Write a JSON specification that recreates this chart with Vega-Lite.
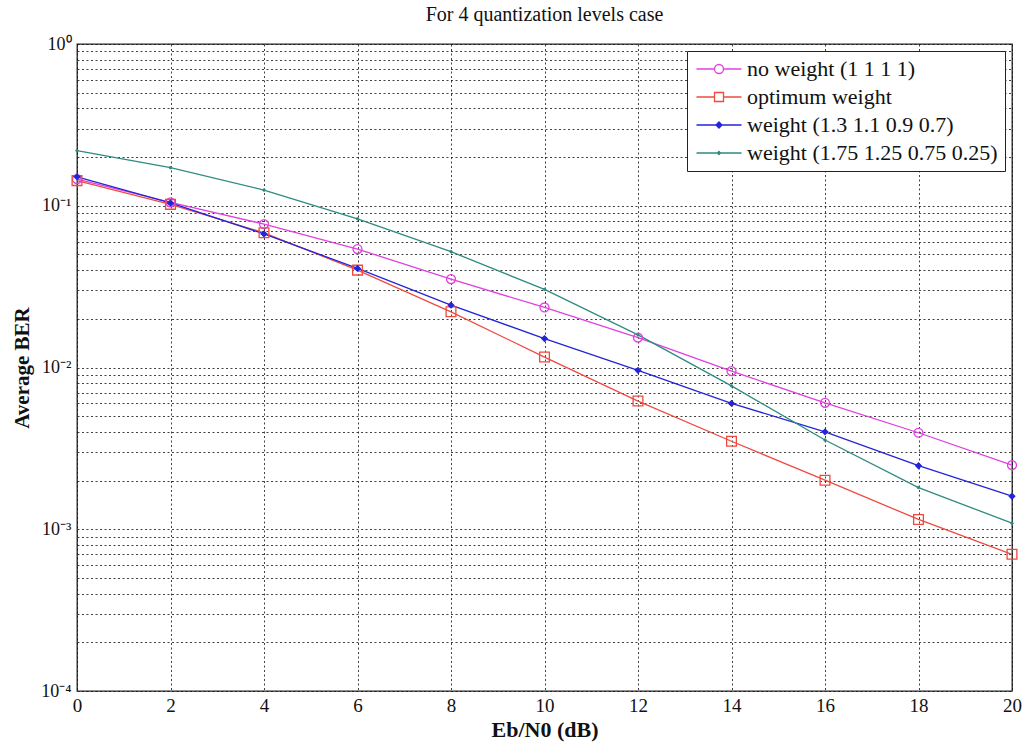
{
  "$schema": "https://vega.github.io/schema/vega-lite/v6.json",
  "width": 935,
  "height": 647,
  "autosize": {"type": "none"},
  "padding": {"left": 77, "top": 44, "right": 11, "bottom": 51},
  "background": "white",
  "title": {"text": "For 4 quantization levels case", "font": "Liberation Serif", "fontSize": 20, "fontWeight": "normal", "color": "#111", "offset": 10, "anchor": "middle"},
  "config": {
    "view": {"stroke": "#222", "strokeWidth": 1.3},
    "axis": {"labelFont": "Liberation Serif", "titleFont": "Liberation Serif", "labelColor": "#111", "titleColor": "#111", "domain": false, "ticks": false, "grid": true, "gridColor": "#111", "gridDash": [2, 2.5], "gridOpacity": 0.8, "gridWidth": 1},
    "legend": {"labelFont": "Liberation Serif", "titleFont": "Liberation Serif"}
  },
  "data": {"values": [
    {"series": "no weight (1 1 1 1)", "ebn0": 0, "ber": 0.146},
    {"series": "no weight (1 1 1 1)", "ebn0": 2, "ber": 0.105},
    {"series": "no weight (1 1 1 1)", "ebn0": 4, "ber": 0.077},
    {"series": "no weight (1 1 1 1)", "ebn0": 6, "ber": 0.054},
    {"series": "no weight (1 1 1 1)", "ebn0": 8, "ber": 0.0352},
    {"series": "no weight (1 1 1 1)", "ebn0": 10, "ber": 0.0235},
    {"series": "no weight (1 1 1 1)", "ebn0": 12, "ber": 0.0153},
    {"series": "no weight (1 1 1 1)", "ebn0": 14, "ber": 0.0095},
    {"series": "no weight (1 1 1 1)", "ebn0": 16, "ber": 0.00605},
    {"series": "no weight (1 1 1 1)", "ebn0": 18, "ber": 0.00395},
    {"series": "no weight (1 1 1 1)", "ebn0": 20, "ber": 0.00249},
    {"series": "optimum weight", "ebn0": 0, "ber": 0.143},
    {"series": "optimum weight", "ebn0": 2, "ber": 0.102},
    {"series": "optimum weight", "ebn0": 4, "ber": 0.068},
    {"series": "optimum weight", "ebn0": 6, "ber": 0.040},
    {"series": "optimum weight", "ebn0": 8, "ber": 0.0221},
    {"series": "optimum weight", "ebn0": 10, "ber": 0.0116},
    {"series": "optimum weight", "ebn0": 12, "ber": 0.0062},
    {"series": "optimum weight", "ebn0": 14, "ber": 0.0035},
    {"series": "optimum weight", "ebn0": 16, "ber": 0.00201},
    {"series": "optimum weight", "ebn0": 18, "ber": 0.00115},
    {"series": "optimum weight", "ebn0": 20, "ber": 0.0007},
    {"series": "weight (1.3 1.1 0.9 0.7)", "ebn0": 0, "ber": 0.151},
    {"series": "weight (1.3 1.1 0.9 0.7)", "ebn0": 2, "ber": 0.104},
    {"series": "weight (1.3 1.1 0.9 0.7)", "ebn0": 4, "ber": 0.067},
    {"series": "weight (1.3 1.1 0.9 0.7)", "ebn0": 6, "ber": 0.041},
    {"series": "weight (1.3 1.1 0.9 0.7)", "ebn0": 8, "ber": 0.0243},
    {"series": "weight (1.3 1.1 0.9 0.7)", "ebn0": 10, "ber": 0.0151},
    {"series": "weight (1.3 1.1 0.9 0.7)", "ebn0": 12, "ber": 0.0096},
    {"series": "weight (1.3 1.1 0.9 0.7)", "ebn0": 14, "ber": 0.0060},
    {"series": "weight (1.3 1.1 0.9 0.7)", "ebn0": 16, "ber": 0.0040},
    {"series": "weight (1.3 1.1 0.9 0.7)", "ebn0": 18, "ber": 0.00247},
    {"series": "weight (1.3 1.1 0.9 0.7)", "ebn0": 20, "ber": 0.0016},
    {"series": "weight (1.75 1.25 0.75 0.25)", "ebn0": 0, "ber": 0.219},
    {"series": "weight (1.75 1.25 0.75 0.25)", "ebn0": 2, "ber": 0.172},
    {"series": "weight (1.75 1.25 0.75 0.25)", "ebn0": 4, "ber": 0.125},
    {"series": "weight (1.75 1.25 0.75 0.25)", "ebn0": 6, "ber": 0.083},
    {"series": "weight (1.75 1.25 0.75 0.25)", "ebn0": 8, "ber": 0.052},
    {"series": "weight (1.75 1.25 0.75 0.25)", "ebn0": 10, "ber": 0.0304},
    {"series": "weight (1.75 1.25 0.75 0.25)", "ebn0": 12, "ber": 0.0159},
    {"series": "weight (1.75 1.25 0.75 0.25)", "ebn0": 14, "ber": 0.0077},
    {"series": "weight (1.75 1.25 0.75 0.25)", "ebn0": 16, "ber": 0.00356},
    {"series": "weight (1.75 1.25 0.75 0.25)", "ebn0": 18, "ber": 0.00181},
    {"series": "weight (1.75 1.25 0.75 0.25)", "ebn0": 20, "ber": 0.00109}
  ]},
  "encoding": {
    "x": {"field": "ebn0", "type": "quantitative", "scale": {"domain": [0, 20], "nice": false},
      "axis": {"values": [0, 2, 4, 6, 8, 10, 12, 14, 16, 18, 20], "title": "Eb/N0 (dB)", "titleFontSize": 22, "titleFontWeight": "bold", "labelFontSize": 19, "labelPadding": 5, "titlePadding": 4, "labelFlush": false}},
    "y": {"field": "ber", "type": "quantitative", "scale": {"type": "log", "domain": [0.0001, 1], "nice": false},
      "axis": {"values": [0.0001, 0.0002, 0.0003, 0.0004, 0.0005, 0.0006, 0.0007, 0.0008, 0.0009, 0.001, 0.002, 0.003, 0.004, 0.005, 0.006, 0.007, 0.008, 0.009, 0.01, 0.02, 0.03, 0.04, 0.05, 0.06, 0.07, 0.08, 0.09, 0.1, 0.2, 0.3, 0.4, 0.5, 0.6, 0.7, 0.8, 0.9, 1],
        "labelExpr": "datum.value == 1 ? '10⁰' : datum.value == 0.1 ? '10⁻¹' : datum.value == 0.01 ? '10⁻²' : datum.value == 0.001 ? '10⁻³' : datum.value == 0.0001 ? '10⁻⁴' : ''",
        "labelOverlap": false, "labelFlush": false, "labelFontSize": 18, "labelPadding": 6,
        "title": "Average BER", "titleFontSize": 21, "titleFontWeight": "bold", "titlePadding": 8}}
  },
  "layer": [
    {
      "mark": {"type": "line", "strokeWidth": 1.3},
      "encoding": {
        "color": {"field": "series", "type": "nominal",
          "scale": {"domain": ["no weight (1 1 1 1)", "optimum weight", "weight (1.3 1.1 0.9 0.7)", "weight (1.75 1.25 0.75 0.25)"], "range": ["#e040e0", "#f04a40", "#2424d8", "#2e8b80"]},
          "legend": {"title": null, "orient": "top-right", "offset": 7, "strokeColor": "#222", "fillColor": "white", "padding": 7,
            "labelFont": "Liberation Serif", "labelFontSize": 22, "labelColor": "#111", "labelLimit": 400, "rowPadding": 6,
            "symbolSize": 225, "symbolOffset": 14, "labelOffset": 17, "symbolStrokeWidth": 1.3,
            "encode": {"symbols": {"update": {
              "shape": {"signal": "datum.value == 'no weight (1 1 1 1)' ? 'M-3,0L-0.6,0M0.6,0L3,0M0.6,0A0.6,0.6 0 1 1 -0.6,0A0.6,0.6 0 1 1 0.6,0Z' : datum.value == 'optimum weight' ? 'M-3,0L-0.6,0M0.6,0L3,0M-0.6,-0.6L0.6,-0.6L0.6,0.6L-0.6,0.6Z' : datum.value == 'weight (1.3 1.1 0.9 0.7)' ? 'M-3,0L3,0M0,-0.4L0.4,0L0,0.4L-0.4,0Z' : 'M-3,0L3,0M0,-0.2L0.2,0L0,0.2L-0.2,0Z'"},
              "fill": {"signal": "datum.value == 'weight (1.3 1.1 0.9 0.7)' ? '#2424d8' : datum.value == 'weight (1.75 1.25 0.75 0.25)' ? '#2e8b80' : 'transparent'"},
              "size": {"value": 225},
              "strokeWidth": {"value": 1.3}
            }}}
          }
        }
      }
    },
    {
      "transform": [{"filter": "datum.series == 'no weight (1 1 1 1)'"}],
      "mark": {"type": "point", "shape": "circle", "size": 80, "stroke": "#e040e0", "fill": "transparent", "strokeWidth": 1.3, "opacity": 1}
    },
    {
      "transform": [{"filter": "datum.series == 'optimum weight'"}],
      "mark": {"type": "point", "shape": "square", "size": 95, "stroke": "#f04a40", "fill": "transparent", "strokeWidth": 1.3, "opacity": 1}
    },
    {
      "transform": [{"filter": "datum.series == 'weight (1.3 1.1 0.9 0.7)'"}],
      "mark": {"type": "point", "shape": "diamond", "size": 30, "stroke": "#2424d8", "fill": "#2424d8", "strokeWidth": 1.3, "opacity": 1}
    },
    {
      "transform": [{"filter": "datum.series == 'weight (1.75 1.25 0.75 0.25)'"}],
      "mark": {"type": "point", "shape": "circle", "size": 6, "stroke": "#2e8b80", "fill": "#2e8b80", "strokeWidth": 1, "opacity": 1}
    }
  ]
}
